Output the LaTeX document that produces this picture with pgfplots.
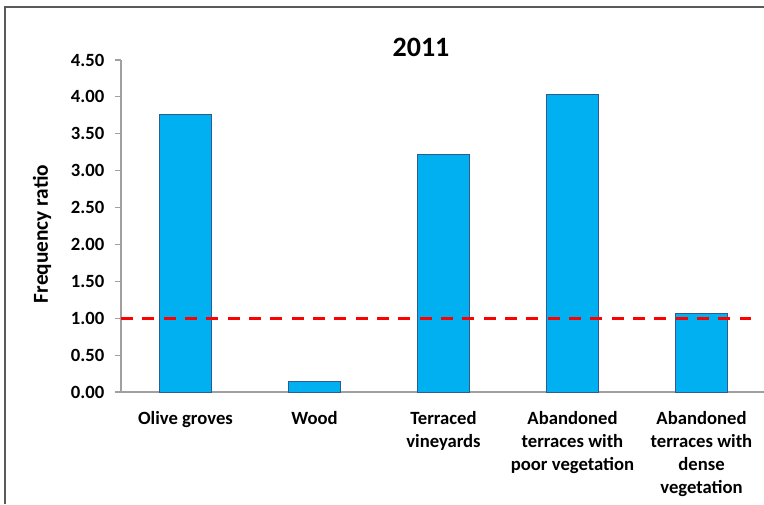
\documentclass[border=0pt]{standalone}
\usepackage{pgfplots}
\pgfplotsset{compat=1.18}
\usepackage{fontspec}
\setmainfont{Carlito}
\definecolor{barfill}{HTML}{00B0F0}
\definecolor{barline}{HTML}{2F5C8F}
\definecolor{axisgray}{HTML}{A0A0A0}
\definecolor{framegray}{HTML}{5A5A5A}

\begin{document}
\begin{tikzpicture}[x=0.75pt,y=0.75pt]
\useasboundingbox (0,0) rectangle (764,504);
\fill[white] (0,0) rectangle (764,504);
\draw[framegray, line width=1.2pt] (5,0) -- (5,497) -- (764,497);
\begin{axis}[
  at={(90.75pt,84pt)}, anchor=south west,
  scale only axis, width=483.75pt, height=249pt,
  xmin=-0.5, xmax=4.5, ymin=0, ymax=4.5,
  axis x line*=bottom, axis y line*=left,
  axis line style={axisgray, line width=0.8pt},
  tick style={axisgray, line width=0.8pt},
  tick align=outside,
  major tick length=4.5pt,
  xtick={0,1,2,3,4},
  xticklabels={Olive groves, Wood, Terraced\\vineyards, Abandoned\\terraces with\\poor vegetation, Abandoned\\terraces with\\dense\\vegetation},
  x tick label style={font=\bfseries\fontsize{14}{17.25}\selectfont, align=center, anchor=north, yshift=-6.5pt},
  xtick style={draw=none},
  extra x ticks={-0.5,0.5,1.5,2.5,3.5,4.5},
  extra x tick labels={},
  extra x tick style={tick style={axisgray, line width=0.8pt}, major tick length=4pt},
  ytick={0,0.5,...,4.5},
  yticklabel style={font=\bfseries\fontsize{14}{16}\selectfont, xshift=-4.5pt, /pgf/number format/fixed, /pgf/number format/fixed zerofill, /pgf/number format/precision=2},
  /pgf/number format/assume math mode=true,
  clip=false,
]
\addplot[ybar, bar width=39pt, fill=barfill, draw=barline, line width=0.6pt]
  coordinates {(0,3.76) (1,0.14) (2,3.22) (3,4.03) (4,1.06)};
\addplot[red, line width=2.4pt, dash pattern=on 9pt off 7pt]
  coordinates {(-0.5,1) (4.38,1)};
\end{axis}
\node[font=\bfseries\fontsize{21}{25}\selectfont] at (421,457) {2011};
\node[rotate=90, font=\bfseries\fontsize{16}{19}\selectfont] at (42,270) {Frequency ratio};
\end{tikzpicture}
\end{document}
